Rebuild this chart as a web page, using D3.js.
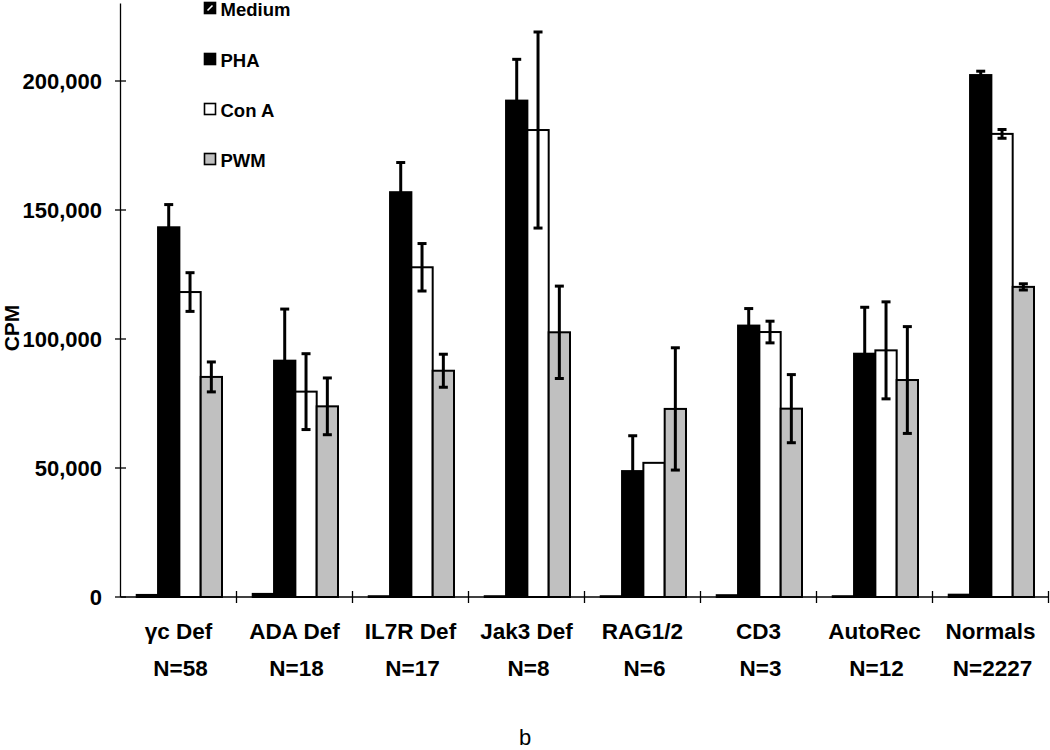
<!DOCTYPE html>
<html>
<head>
<meta charset="utf-8">
<script src="https://cdn.jsdelivr.net/npm/d3@7"></script>
<style>
  html, body { margin: 0; padding: 0; background: #fff; }
  svg { display: block; }
  text { font-family: "Liberation Sans", Arial, sans-serif; }
</style>
</head>
<body>
<svg id="chart" width="1050" height="750"></svg>
<script>
// ---- data ----
const categories = ["γc Def", "ADA Def", "IL7R Def", "Jak3 Def", "RAG1/2", "CD3", "AutoRec", "Normals"];
const sampleSizes = ["N=58", "N=18", "N=17", "N=8", "N=6", "N=3", "N=12", "N=2227"];
const seriesNames = ["Medium", "PHA", "Con A", "PWM"];
const medium    = [800, 1200, 300, 300, 300, 700, 300, 900];
const mediumErr = [0, 0, 0, 0, 0, 0, 0, 0];
const pha       = [143300, 91600, 156900, 192400, 48800, 105200, 94300, 202300];
const phaErr    = [8800, 20000, 11500, 16000, 13700, 6600, 18000, 1500];
const conA      = [118200, 79600, 127800, 181000, 52000, 102700, 95600, 179500];
const conAErr   = [7500, 14700, 9200, 38000, 0, 4200, 18800, 1700];
const pwm       = [85300, 73900, 87700, 102600, 72900, 73000, 84100, 120200];
const pwmErr    = [5800, 11000, 6400, 17900, 23700, 13200, 20700, 1200];
const yTicks    = [0, 50000, 100000, 150000, 200000];
const yTickLabels = ["0", "50,000", "100,000", "150,000", "200,000"];
const yMax = 230000;

const seriesValues = [medium, pha, conA, pwm];
const seriesErrors = [mediumErr, phaErr, conAErr, pwmErr];
const seriesFill = ["#000000", "#000000", "#ffffff", "#c0c0c0"];

// ---- layout ----
const svg = d3.select("#chart");
const x0 = d3.scaleBand().domain(categories).range([120.5, 1048.5]);
const bw = x0.bandwidth();
const x1 = d3.scaleBand().domain(seriesNames).range([bw * 0.14, bw * 0.875]);
const y = d3.scaleLinear().domain([0, yMax]).range([597, 3.6]);

const rows = [];
categories.forEach((c, i) => {
  seriesNames.forEach((s, j) => {
    rows.push({ cat: c, series: s, j, v: seriesValues[j][i], e: seriesErrors[j][i] });
  });
});

// bars
svg.append("g").selectAll("rect").data(rows).join("rect")
  .attr("x", d => x0(d.cat) + x1(d.series))
  .attr("y", d => y(d.v))
  .attr("width", x1.bandwidth())
  .attr("height", d => y(0) - y(d.v))
  .attr("fill", d => seriesFill[d.j])
  .attr("stroke", "#000")
  .attr("stroke-width", 2);

// error bars
const eg = svg.append("g").attr("stroke", "#000");
const errRows = rows.filter(d => d.e > 0);
const cx = d => x0(d.cat) + x1(d.series) + x1.bandwidth() / 2;
eg.selectAll("line.stem").data(errRows).join("line")
  .attr("class", "stem")
  .attr("x1", cx).attr("x2", cx)
  .attr("y1", d => y(d.v + d.e)).attr("y2", d => y(d.v - d.e))
  .attr("stroke-width", 3);
eg.selectAll("line.capT").data(errRows).join("line")
  .attr("class", "capT")
  .attr("x1", d => cx(d) - 4.5).attr("x2", d => cx(d) + 4.5)
  .attr("y1", d => y(d.v + d.e)).attr("y2", d => y(d.v + d.e))
  .attr("stroke-width", 3);
eg.selectAll("line.capB").data(errRows).join("line")
  .attr("class", "capB")
  .attr("x1", d => cx(d) - 4.5).attr("x2", d => cx(d) + 4.5)
  .attr("y1", d => y(d.v - d.e)).attr("y2", d => y(d.v - d.e))
  .attr("stroke-width", 3);

// x axis line and ticks (crossing)
const ax = svg.append("g").attr("stroke", "#000").attr("stroke-width", 1.3);
ax.append("line").attr("x1", 120.5).attr("x2", 1048.5).attr("y1", y(0)).attr("y2", y(0));
const xBounds = categories.map(c => x0(c)).concat([x0(categories[categories.length - 1]) + bw]);
ax.selectAll("line.xt").data(xBounds.slice(1)).join("line")
  .attr("class", "xt")
  .attr("x1", d => d).attr("x2", d => d)
  .attr("y1", y(0) - 6).attr("y2", y(0) + 6);

// y axis line and ticks
ax.append("line").attr("x1", 120.5).attr("x2", 120.5).attr("y1", y(yMax)).attr("y2", y(0));
ax.selectAll("line.yt").data(yTicks).join("line")
  .attr("class", "yt")
  .attr("x1", 115).attr("x2", 126)
  .attr("y1", d => y(d)).attr("y2", d => y(d));

// y tick labels
svg.append("g").selectAll("text").data(yTicks).join("text")
  .attr("x", 102)
  .attr("y", d => y(d))
  .attr("dy", "0.36em")
  .attr("text-anchor", "end")
  .attr("font-size", 22)
  .attr("font-weight", "bold")
  .text((d, i) => yTickLabels[i]);

// y title
svg.append("text")
  .attr("transform", "translate(19,328) rotate(-90)")
  .attr("text-anchor", "middle")
  .attr("font-size", 21)
  .attr("font-weight", "bold")
  .text("CPM");

// category labels
svg.append("g").selectAll("text").data(categories).join("text")
  .attr("x", d => x0(d) + bw / 2)
  .attr("y", 639)
  .attr("text-anchor", "middle")
  .attr("font-size", 22.5)
  .attr("font-weight", "bold")
  .text(d => d);
svg.append("g").selectAll("text").data(sampleSizes).join("text")
  .attr("x", (d, i) => x0(categories[i]) + bw / 2 + 2)
  .attr("y", 676)
  .attr("text-anchor", "middle")
  .attr("font-size", 22.5)
  .attr("font-weight", "bold")
  .text(d => d);

// legend
const legendY = [2, 53, 103, 153];
const lg = svg.append("g");
seriesNames.forEach((s, j) => {
  const g = lg.append("g").attr("transform", `translate(204.5,${legendY[j] + 0.5})`);
  g.append("rect").attr("width", 11).attr("height", 11)
    .attr("fill", seriesFill[j]).attr("stroke", "#000").attr("stroke-width", 1.6);
  if (j === 0) {
    g.append("line").attr("x1", 3).attr("y1", 8).attr("x2", 8).attr("y2", 3)
      .attr("stroke", "#fff").attr("stroke-width", 1.6);
  }
  g.append("text").attr("x", 16).attr("y", 13)
    .attr("font-size", 18.5).attr("font-weight", "bold").text(s);
});

// caption
svg.append("text").attr("x", 525).attr("y", 745)
  .attr("text-anchor", "middle").attr("font-size", 22).text("b");
</script>
</body>
</html>
